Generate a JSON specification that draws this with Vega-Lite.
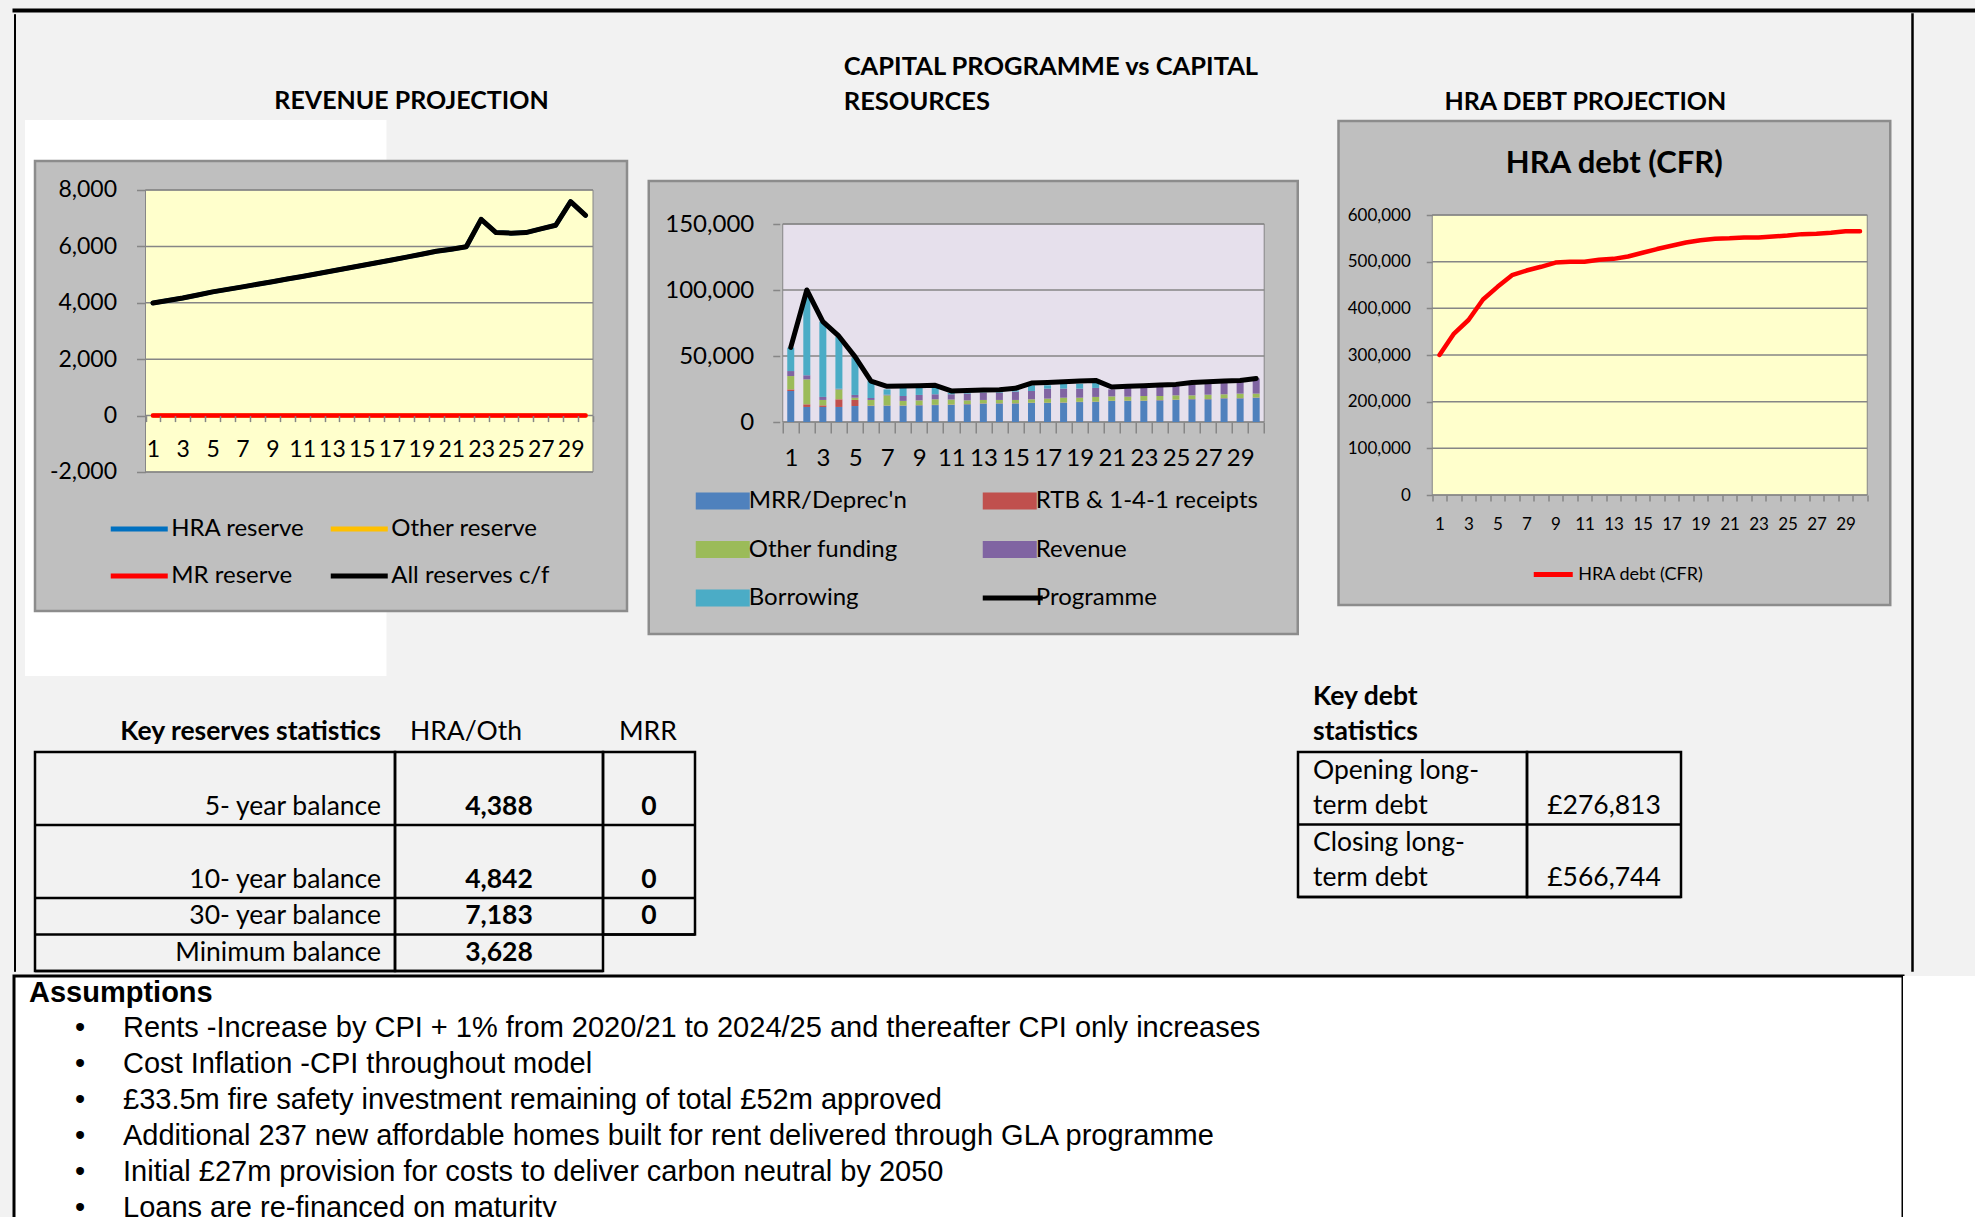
{
"$schema": "https://vega.github.io/schema/vega-lite/v6.json",
"background": "#F2F2F2",
"padding": {"left": 12, "top": 8, "right": 0, "bottom": 0},
"config": {
  "view": {"stroke": null},
  "font": "Lato",
  "axis": {"labelFont": "Lato", "labelColor": "#000000", "tickColor": "#868686", "tickWidth": 1.5, "domain": false, "grid": false},
  "legend": {"labelFont": "Lato", "labelColor": "#000000", "padding": 0, "labelLimit": 500},
  "title": {"font": "Lato", "color": "#000000", "frame": "group"},
  "text": {"font": "Lato", "color": "#000000"}
},
"datasets": {
  "revenue": [
    {"year":1,"hra":3990,"other":0,"mr":0,"all":3990},{"year":2,"hra":4080,"other":0,"mr":0,"all":4080},{"year":3,"hra":4170,"other":0,"mr":0,"all":4170},{"year":4,"hra":4275,"other":0,"mr":0,"all":4275},{"year":5,"hra":4388,"other":0,"mr":0,"all":4388},{"year":6,"hra":4475,"other":0,"mr":0,"all":4475},{"year":7,"hra":4565,"other":0,"mr":0,"all":4565},{"year":8,"hra":4655,"other":0,"mr":0,"all":4655},{"year":9,"hra":4748,"other":0,"mr":0,"all":4748},{"year":10,"hra":4842,"other":0,"mr":0,"all":4842},
    {"year":11,"hra":4935,"other":0,"mr":0,"all":4935},{"year":12,"hra":5030,"other":0,"mr":0,"all":5030},{"year":13,"hra":5125,"other":0,"mr":0,"all":5125},{"year":14,"hra":5222,"other":0,"mr":0,"all":5222},{"year":15,"hra":5320,"other":0,"mr":0,"all":5320},{"year":16,"hra":5420,"other":0,"mr":0,"all":5420},{"year":17,"hra":5520,"other":0,"mr":0,"all":5520},{"year":18,"hra":5620,"other":0,"mr":0,"all":5620},{"year":19,"hra":5722,"other":0,"mr":0,"all":5722},{"year":20,"hra":5825,"other":0,"mr":0,"all":5825},
    {"year":21,"hra":5900,"other":0,"mr":0,"all":5900},{"year":22,"hra":5985,"other":0,"mr":0,"all":5985},{"year":23,"hra":6960,"other":0,"mr":0,"all":6960},{"year":24,"hra":6490,"other":0,"mr":0,"all":6490},{"year":25,"hra":6470,"other":0,"mr":0,"all":6470},{"year":26,"hra":6490,"other":0,"mr":0,"all":6490},{"year":27,"hra":6620,"other":0,"mr":0,"all":6620},{"year":28,"hra":6750,"other":0,"mr":0,"all":6750},{"year":29,"hra":7590,"other":0,"mr":0,"all":7590},{"year":30,"hra":7100,"other":0,"mr":0,"all":7100}
  ],
  "capital": [
    {"year":1,"mrr":23500,"rtb":1200,"other":10100,"revenue":3800,"borrowing":17700,"programme":56500},
    {"year":2,"mrr":11400,"rtb":2000,"other":18900,"revenue":3100,"borrowing":59600,"programme":100000},
    {"year":3,"mrr":11400,"rtb":1200,"other":4100,"revenue":2300,"borrowing":57000,"programme":76000},
    {"year":4,"mrr":11400,"rtb":5800,"other":7500,"revenue":500,"borrowing":39300,"programme":65000},
    {"year":5,"mrr":12100,"rtb":4600,"other":1700,"revenue":2100,"borrowing":28500,"programme":49500},
    {"year":6,"mrr":12100,"rtb":300,"other":4300,"revenue":1500,"borrowing":12800,"programme":31000},
    {"year":7,"mrr":12300,"rtb":200,"other":7700,"revenue":500,"borrowing":4000,"programme":27000},
    {"year":8,"mrr":12300,"rtb":200,"other":3500,"revenue":3700,"borrowing":6300,"programme":27200},
    {"year":9,"mrr":12600,"rtb":200,"other":3600,"revenue":4100,"borrowing":5500,"programme":27500},
    {"year":10,"mrr":12800,"rtb":200,"other":4200,"revenue":3800,"borrowing":5400,"programme":27800},
    {"year":11,"mrr":13000,"rtb":200,"other":3800,"revenue":4000,"borrowing":1000,"programme":23500},
    {"year":12,"mrr":13400,"rtb":200,"other":2800,"revenue":5100,"borrowing":600,"programme":23800},
    {"year":13,"mrr":13900,"rtb":200,"other":2600,"revenue":5500,"borrowing":300,"programme":24200},
    {"year":14,"mrr":14000,"rtb":200,"other":2500,"revenue":5500,"borrowing":500,"programme":24500},
    {"year":15,"mrr":14000,"rtb":200,"other":2500,"revenue":6300,"borrowing":1000,"programme":25500},
    {"year":16,"mrr":14400,"rtb":200,"other":2600,"revenue":6300,"borrowing":4300,"programme":29500},
    {"year":17,"mrr":14400,"rtb":200,"other":3100,"revenue":7600,"borrowing":2500,"programme":30000},
    {"year":18,"mrr":14600,"rtb":200,"other":3600,"revenue":6900,"borrowing":3700,"programme":30500},
    {"year":19,"mrr":15100,"rtb":200,"other":3100,"revenue":6900,"borrowing":3700,"programme":31000},
    {"year":20,"mrr":15200,"rtb":200,"other":3600,"revenue":6800,"borrowing":4500,"programme":31500},
    {"year":21,"mrr":15900,"rtb":200,"other":3300,"revenue":5300,"borrowing":0,"programme":26500},
    {"year":22,"mrr":16000,"rtb":200,"other":3000,"revenue":6800,"borrowing":0,"programme":27000},
    {"year":23,"mrr":16000,"rtb":200,"other":3500,"revenue":6300,"borrowing":0,"programme":27500},
    {"year":24,"mrr":16400,"rtb":200,"other":3100,"revenue":6800,"borrowing":0,"programme":28000},
    {"year":25,"mrr":16700,"rtb":200,"other":3300,"revenue":7100,"borrowing":0,"programme":28500},
    {"year":26,"mrr":17200,"rtb":200,"other":2800,"revenue":8300,"borrowing":0,"programme":30000},
    {"year":27,"mrr":17200,"rtb":200,"other":3300,"revenue":8300,"borrowing":0,"programme":30500},
    {"year":28,"mrr":17900,"rtb":200,"other":2900,"revenue":8800,"borrowing":0,"programme":31000},
    {"year":29,"mrr":17900,"rtb":200,"other":3400,"revenue":9000,"borrowing":0,"programme":31500},
    {"year":30,"mrr":18400,"rtb":200,"other":2900,"revenue":11500,"borrowing":0,"programme":33000}
  ],
  "funding": [
    {"key":"mrr","source":"MRR/Deprec'n","rank":1},
    {"key":"rtb","source":"RTB & 1-4-1 receipts","rank":2},
    {"key":"other","source":"Other funding","rank":3},
    {"key":"revenue","source":"Revenue","rank":4},
    {"key":"borrowing","source":"Borrowing","rank":5}
  ],
  "debt": [
    {"year":1,"cfr":300000},{"year":2,"cfr":346000},{"year":3,"cfr":375000},{"year":4,"cfr":419000},{"year":5,"cfr":446000},{"year":6,"cfr":471000},{"year":7,"cfr":481000},{"year":8,"cfr":489000},{"year":9,"cfr":498000},{"year":10,"cfr":500000},
    {"year":11,"cfr":500000},{"year":12,"cfr":504000},{"year":13,"cfr":506000},{"year":14,"cfr":511000},{"year":15,"cfr":519000},{"year":16,"cfr":527000},{"year":17,"cfr":534000},{"year":18,"cfr":541000},{"year":19,"cfr":546000},{"year":20,"cfr":549000},
    {"year":21,"cfr":550000},{"year":22,"cfr":552000},{"year":23,"cfr":552000},{"year":24,"cfr":554000},{"year":25,"cfr":556000},{"year":26,"cfr":559000},{"year":27,"cfr":560000},{"year":28,"cfr":562000},{"year":29,"cfr":565000},{"year":30,"cfr":565000}
  ],
  "reserves": [
    {"row":"5","label":"5- year balance","hra":4388,"mrr":0},
    {"row":"10","label":"10- year balance","hra":4842,"mrr":0},
    {"row":"30","label":"30- year balance","hra":7183,"mrr":0},
    {"row":"min","label":"Minimum balance","hra":3628,"mrr":null}
  ],
  "debtStats": [
    {"key":"opening","item":" Opening long-\nterm debt","value":"£276,813"},
    {"key":"closing","item":"Closing long-\nterm debt","value":"£566,744"}
  ],
  "assumptions": [
    {"text":"Rents -Increase by CPI + 1% from 2020/21 to 2024/25 and thereafter CPI only increases"},
    {"text":"Cost Inflation -CPI throughout model"},
    {"text":"£33.5m fire safety investment remaining of total £52m approved"},
    {"text":"Additional 237 new affordable homes built for rent delivered through GLA programme"},
    {"text":"Initial £27m provision for costs to deliver carbon neutral by 2050"},
    {"text":"Loans are re-financed on maturity"}
  ]
},
"spacing": 0,
"vconcat": [
  {"width": 1962, "height": 1, "data": {"values": []}, "mark": "text", "encoding": {}, "view": {"fill": "#000000", "stroke": "#000000", "strokeWidth": 3}},
  {"spacing": 9, "hconcat": [
    {"width": 1, "height": 957, "data": {"values": []}, "mark": "text", "encoding": {}, "view": {"fill": "#000000", "stroke": "#000000", "strokeWidth": 1}},
    {"spacing": 5, "vconcat": [
      {"spacing": 17.75, "resolve": {"scale": {"color": "independent"}, "legend": {"color": "independent"}}, "hconcat": [
        {"spacing": 0, "resolve": {"scale": {"color": "independent"}, "legend": {"color": "independent"}}, "vconcat": [
          {"width": 592, "height": 74, "data": {"values": []}, "mark": "text", "encoding": {}},
          {
          "width": 592, "height": 450,
          "title": {"text": "REVENUE PROJECTION", "anchor": "middle", "dx": 80.5, "offset": 6, "fontSize": 25, "fontWeight": "bold"},
          "layer": [
            {"data": {"values": [{}]}, "mark": {"type": "rect", "fill": "#FFFFFF"},
             "encoding": {
               "x": {"datum": -7.578, "type": "quantitative", "scale": {"domain": [-6.908, 32.779], "nice": false, "zero": false},
                     "axis": {"orient": "bottom", "offset": -195.4, "values": [0.5,1.5,2.5,3.5,4.5,5.5,6.5,7.5,8.5,9.5,10.5,11.5,12.5,13.5,14.5,15.5,16.5,17.5,18.5,19.5,20.5,21.5,22.5,23.5,24.5,25.5,26.5,27.5,28.5,29.5,30.5], "labelExpr": "datum.value < 30 && (datum.value + 0.5) % 2 == 1 ? format(datum.value + 0.5, 'd') : ''", "labelOffset": 7.46, "tickSize": 6, "labelFontSize": 23, "labelPadding": 17, "labelFlush": false, "labelOverlap": false, "labelBound": false, "title": null, "zindex": 1}},
               "x2": {"datum": 16.656},
               "y": {"datum": -9234, "type": "quantitative", "scale": {"domain": [-6929, 9028], "nice": false, "zero": false},
                     "axis": {"orient": "left", "offset": -110.5, "values": [-2000, 0, 2000, 4000, 6000, 8000], "labelExpr": "replace(format(datum.value, ','), '−', '-')", "tickSize": 9, "labelFontSize": 23, "labelPadding": 20, "title": null, "zindex": 1}},
               "y2": {"datum": 10482}}},
            {"data": {"values": [{}]}, "mark": {"type": "rect", "fill": "#BFBFBF", "stroke": "#8C8C8C", "strokeWidth": 2.5},
             "encoding": {
               "x": {"datum": -6.908, "type": "quantitative", "scale": {"domain": [-6.908, 32.779], "nice": false, "zero": false},
                     "axis": {"orient": "bottom", "offset": -195.4, "values": [0.5,1.5,2.5,3.5,4.5,5.5,6.5,7.5,8.5,9.5,10.5,11.5,12.5,13.5,14.5,15.5,16.5,17.5,18.5,19.5,20.5,21.5,22.5,23.5,24.5,25.5,26.5,27.5,28.5,29.5,30.5], "labelExpr": "datum.value < 30 && (datum.value + 0.5) % 2 == 1 ? format(datum.value + 0.5, 'd') : ''", "labelOffset": 7.46, "tickSize": 6, "labelFontSize": 23, "labelPadding": 17, "labelFlush": false, "labelOverlap": false, "labelBound": false, "title": null, "zindex": 1}},
               "x2": {"datum": 32.779},
               "y": {"datum": -6929, "type": "quantitative", "scale": {"domain": [-6929, 9028], "nice": false, "zero": false},
                     "axis": {"orient": "left", "offset": -110.5, "values": [-2000, 0, 2000, 4000, 6000, 8000], "labelExpr": "replace(format(datum.value, ','), '−', '-')", "tickSize": 9, "labelFontSize": 23, "labelPadding": 20, "title": null, "zindex": 1}},
               "y2": {"datum": 9028}}},
            {"data": {"values": [{}]}, "mark": {"type": "rect", "fill": "#FFFFCC", "stroke": "#868686", "strokeWidth": 1},
             "encoding": {
               "x": {"datum": 0.5, "type": "quantitative", "scale": {"domain": [-6.908, 32.779], "nice": false, "zero": false},
                     "axis": {"orient": "bottom", "offset": -195.4, "values": [0.5,1.5,2.5,3.5,4.5,5.5,6.5,7.5,8.5,9.5,10.5,11.5,12.5,13.5,14.5,15.5,16.5,17.5,18.5,19.5,20.5,21.5,22.5,23.5,24.5,25.5,26.5,27.5,28.5,29.5,30.5], "labelExpr": "datum.value < 30 && (datum.value + 0.5) % 2 == 1 ? format(datum.value + 0.5, 'd') : ''", "labelOffset": 7.46, "tickSize": 6, "labelFontSize": 23, "labelPadding": 17, "labelFlush": false, "labelOverlap": false, "labelBound": false, "title": null, "zindex": 1}},
               "x2": {"datum": 30.5},
               "y": {"datum": -2000, "type": "quantitative", "scale": {"domain": [-6929, 9028], "nice": false, "zero": false},
                     "axis": {"orient": "left", "offset": -110.5, "values": [-2000, 0, 2000, 4000, 6000, 8000], "labelExpr": "replace(format(datum.value, ','), '−', '-')", "tickSize": 9, "labelFontSize": 23, "labelPadding": 20, "title": null, "zindex": 1}},
               "y2": {"datum": 8000}}},
            {"data": {"values": [{"grid": -2000}, {"grid": 0}, {"grid": 2000}, {"grid": 4000}, {"grid": 6000}, {"grid": 8000}]},
             "mark": {"type": "rule", "color": "#868686", "strokeWidth": 1.5},
             "encoding": {
               "y": {"field": "grid", "type": "quantitative", "scale": {"domain": [-6929, 9028], "nice": false, "zero": false},
                     "axis": {"orient": "left", "offset": -110.5, "values": [-2000, 0, 2000, 4000, 6000, 8000], "labelExpr": "replace(format(datum.value, ','), '−', '-')", "tickSize": 9, "labelFontSize": 23, "labelPadding": 20, "title": null, "zindex": 1}},
               "x": {"datum": 0.5, "type": "quantitative", "scale": {"domain": [-6.908, 32.779], "nice": false, "zero": false},
                     "axis": {"orient": "bottom", "offset": -195.4, "values": [0.5,1.5,2.5,3.5,4.5,5.5,6.5,7.5,8.5,9.5,10.5,11.5,12.5,13.5,14.5,15.5,16.5,17.5,18.5,19.5,20.5,21.5,22.5,23.5,24.5,25.5,26.5,27.5,28.5,29.5,30.5], "labelExpr": "datum.value < 30 && (datum.value + 0.5) % 2 == 1 ? format(datum.value + 0.5, 'd') : ''", "labelOffset": 7.46, "tickSize": 6, "labelFontSize": 23, "labelPadding": 17, "labelFlush": false, "labelOverlap": false, "labelBound": false, "title": null, "zindex": 1}},
               "x2": {"datum": 30.5}}},
            {"data": {"name": "revenue"}, "mark": {"type": "line", "strokeWidth": 4.5, "strokeCap": "round", "strokeJoin": "round"},
             "encoding": {
               "x": {"field": "year", "type": "quantitative", "scale": {"domain": [-6.908, 32.779], "nice": false, "zero": false},
                     "axis": {"orient": "bottom", "offset": -195.4, "values": [0.5,1.5,2.5,3.5,4.5,5.5,6.5,7.5,8.5,9.5,10.5,11.5,12.5,13.5,14.5,15.5,16.5,17.5,18.5,19.5,20.5,21.5,22.5,23.5,24.5,25.5,26.5,27.5,28.5,29.5,30.5], "labelExpr": "datum.value < 30 && (datum.value + 0.5) % 2 == 1 ? format(datum.value + 0.5, 'd') : ''", "labelOffset": 7.46, "tickSize": 6, "labelFontSize": 23, "labelPadding": 17, "labelFlush": false, "labelOverlap": false, "labelBound": false, "title": null, "zindex": 1}},
               "y": {"field": "hra", "type": "quantitative", "scale": {"domain": [-6929, 9028], "nice": false, "zero": false},
                     "axis": {"orient": "left", "offset": -110.5, "values": [-2000, 0, 2000, 4000, 6000, 8000], "labelExpr": "replace(format(datum.value, ','), '−', '-')", "tickSize": 9, "labelFontSize": 23, "labelPadding": 20, "title": null, "zindex": 1}},
               "color": {"datum": "HRA reserve", "scale": {"domain": ["HRA reserve", "Other reserve", "MR reserve", "All reserves c/f"], "range": ["#0070C0", "#FFC000", "#FF0000", "#000000"]},
                         "legend": {"orient": "none", "direction": "horizontal", "legendX": 73.25, "legendY": 337, "columns": 2, "title": null, "symbolType": "stroke", "symbolSize": 3249, "symbolStrokeWidth": 5, "labelFontSize": 24, "labelOffset": 1, "columnPadding": 15, "rowPadding": 4, "padding": 0}}}},
            {"data": {"name": "revenue"}, "mark": {"type": "line", "strokeWidth": 4.5, "strokeCap": "round", "strokeJoin": "round"},
             "encoding": {
               "x": {"field": "year", "type": "quantitative", "scale": {"domain": [-6.908, 32.779], "nice": false, "zero": false},
                     "axis": {"orient": "bottom", "offset": -195.4, "values": [0.5,1.5,2.5,3.5,4.5,5.5,6.5,7.5,8.5,9.5,10.5,11.5,12.5,13.5,14.5,15.5,16.5,17.5,18.5,19.5,20.5,21.5,22.5,23.5,24.5,25.5,26.5,27.5,28.5,29.5,30.5], "labelExpr": "datum.value < 30 && (datum.value + 0.5) % 2 == 1 ? format(datum.value + 0.5, 'd') : ''", "labelOffset": 7.46, "tickSize": 6, "labelFontSize": 23, "labelPadding": 17, "labelFlush": false, "labelOverlap": false, "labelBound": false, "title": null, "zindex": 1}},
               "y": {"field": "other", "type": "quantitative", "scale": {"domain": [-6929, 9028], "nice": false, "zero": false},
                     "axis": {"orient": "left", "offset": -110.5, "values": [-2000, 0, 2000, 4000, 6000, 8000], "labelExpr": "replace(format(datum.value, ','), '−', '-')", "tickSize": 9, "labelFontSize": 23, "labelPadding": 20, "title": null, "zindex": 1}},
               "color": {"datum": "Other reserve"}}},
            {"data": {"name": "revenue"}, "mark": {"type": "line", "strokeWidth": 4.5, "strokeCap": "round", "strokeJoin": "round"},
             "encoding": {
               "x": {"field": "year", "type": "quantitative", "scale": {"domain": [-6.908, 32.779], "nice": false, "zero": false},
                     "axis": {"orient": "bottom", "offset": -195.4, "values": [0.5,1.5,2.5,3.5,4.5,5.5,6.5,7.5,8.5,9.5,10.5,11.5,12.5,13.5,14.5,15.5,16.5,17.5,18.5,19.5,20.5,21.5,22.5,23.5,24.5,25.5,26.5,27.5,28.5,29.5,30.5], "labelExpr": "datum.value < 30 && (datum.value + 0.5) % 2 == 1 ? format(datum.value + 0.5, 'd') : ''", "labelOffset": 7.46, "tickSize": 6, "labelFontSize": 23, "labelPadding": 17, "labelFlush": false, "labelOverlap": false, "labelBound": false, "title": null, "zindex": 1}},
               "y": {"field": "mr", "type": "quantitative", "scale": {"domain": [-6929, 9028], "nice": false, "zero": false},
                     "axis": {"orient": "left", "offset": -110.5, "values": [-2000, 0, 2000, 4000, 6000, 8000], "labelExpr": "replace(format(datum.value, ','), '−', '-')", "tickSize": 9, "labelFontSize": 23, "labelPadding": 20, "title": null, "zindex": 1}},
               "color": {"datum": "MR reserve"}}},
            {"data": {"name": "revenue"}, "mark": {"type": "line", "strokeWidth": 5, "strokeCap": "round", "strokeJoin": "round"},
             "encoding": {
               "x": {"field": "year", "type": "quantitative", "scale": {"domain": [-6.908, 32.779], "nice": false, "zero": false},
                     "axis": {"orient": "bottom", "offset": -195.4, "values": [0.5,1.5,2.5,3.5,4.5,5.5,6.5,7.5,8.5,9.5,10.5,11.5,12.5,13.5,14.5,15.5,16.5,17.5,18.5,19.5,20.5,21.5,22.5,23.5,24.5,25.5,26.5,27.5,28.5,29.5,30.5], "labelExpr": "datum.value < 30 && (datum.value + 0.5) % 2 == 1 ? format(datum.value + 0.5, 'd') : ''", "labelOffset": 7.46, "tickSize": 6, "labelFontSize": 23, "labelPadding": 17, "labelFlush": false, "labelOverlap": false, "labelBound": false, "title": null, "zindex": 1}},
               "y": {"field": "all", "type": "quantitative", "scale": {"domain": [-6929, 9028], "nice": false, "zero": false},
                     "axis": {"orient": "left", "offset": -110.5, "values": [-2000, 0, 2000, 4000, 6000, 8000], "labelExpr": "replace(format(datum.value, ','), '−', '-')", "tickSize": 9, "labelFontSize": 23, "labelPadding": 20, "title": null, "zindex": 1}},
               "color": {"datum": "All reserves c/f"}}}
          ]
          }
        ]},
        {"spacing": 0, "resolve": {"scale": {"color": "independent"}, "legend": {"color": "independent"}}, "vconcat": [
          {"width": 649, "height": 39, "data": {"values": []}, "mark": "text", "encoding": {}},
          {
          "width": 649, "height": 453,
          "view": {"fill": "#BFBFBF", "stroke": "#8C8C8C", "strokeWidth": 2.5},
          "title": {"text": ["CAPITAL PROGRAMME vs CAPITAL", "RESOURCES"], "anchor": "start", "dx": 195, "offset": 66, "fontSize": 25.5, "fontWeight": "bold", "lineHeight": 35},
          "layer": [
            {"data": {"values": [{}]}, "mark": {"type": "rect", "opacity": 0},
             "encoding": {
               "x": {"datum": 32.279, "type": "quantitative", "scale": {"domain": [-7.537, 32.279], "nice": false, "zero": false},
                     "axis": {"orient": "bottom", "offset": -212, "values": [0.5,1.5,2.5,3.5,4.5,5.5,6.5,7.5,8.5,9.5,10.5,11.5,12.5,13.5,14.5,15.5,16.5,17.5,18.5,19.5,20.5,21.5,22.5,23.5,24.5,25.5,26.5,27.5,28.5,29.5,30.5], "labelExpr": "datum.value < 30 && (datum.value + 0.5) % 2 == 1 ? format(datum.value + 0.5, 'd') : ''", "labelOffset": 8.15, "tickSize": 11, "labelFontSize": 24, "labelPadding": 13, "labelFlush": false, "labelOverlap": false, "labelBound": false, "title": null, "zindex": 1}},
               "x2": {"datum": 33.813},
               "y": {"datum": 0, "type": "quantitative", "scale": {"domain": [-160606, 182576], "nice": false, "zero": false},
                     "axis": {"orient": "left", "offset": -131, "values": [0, 50000, 100000, 150000], "labelExpr": "format(datum.value, ',')", "tickSize": 7, "labelFontSize": 24, "labelPadding": 19, "title": null, "zindex": 1}},
               "y2": {"datum": 150000}}},
            {"data": {"values": [{}]}, "mark": {"type": "rect", "fill": "#E6E0EC", "stroke": "#868686", "strokeWidth": 1},
             "encoding": {
               "x": {"datum": 0.5, "type": "quantitative", "scale": {"domain": [-7.537, 32.279], "nice": false, "zero": false},
                     "axis": {"orient": "bottom", "offset": -212, "values": [0.5,1.5,2.5,3.5,4.5,5.5,6.5,7.5,8.5,9.5,10.5,11.5,12.5,13.5,14.5,15.5,16.5,17.5,18.5,19.5,20.5,21.5,22.5,23.5,24.5,25.5,26.5,27.5,28.5,29.5,30.5], "labelExpr": "datum.value < 30 && (datum.value + 0.5) % 2 == 1 ? format(datum.value + 0.5, 'd') : ''", "labelOffset": 8.15, "tickSize": 11, "labelFontSize": 24, "labelPadding": 13, "labelFlush": false, "labelOverlap": false, "labelBound": false, "title": null, "zindex": 1}},
               "x2": {"datum": 30.5},
               "y": {"datum": 0, "type": "quantitative", "scale": {"domain": [-160606, 182576], "nice": false, "zero": false},
                     "axis": {"orient": "left", "offset": -131, "values": [0, 50000, 100000, 150000], "labelExpr": "format(datum.value, ',')", "tickSize": 7, "labelFontSize": 24, "labelPadding": 19, "title": null, "zindex": 1}},
               "y2": {"datum": 150000}}},
            {"data": {"values": [{"grid": 0}, {"grid": 50000}, {"grid": 100000}, {"grid": 150000}]},
             "mark": {"type": "rule", "color": "#868686", "strokeWidth": 1.5},
             "encoding": {
               "y": {"field": "grid", "type": "quantitative", "scale": {"domain": [-160606, 182576], "nice": false, "zero": false},
                     "axis": {"orient": "left", "offset": -131, "values": [0, 50000, 100000, 150000], "labelExpr": "format(datum.value, ',')", "tickSize": 7, "labelFontSize": 24, "labelPadding": 19, "title": null, "zindex": 1}},
               "x": {"datum": 0.5, "type": "quantitative", "scale": {"domain": [-7.537, 32.279], "nice": false, "zero": false},
                     "axis": {"orient": "bottom", "offset": -212, "values": [0.5,1.5,2.5,3.5,4.5,5.5,6.5,7.5,8.5,9.5,10.5,11.5,12.5,13.5,14.5,15.5,16.5,17.5,18.5,19.5,20.5,21.5,22.5,23.5,24.5,25.5,26.5,27.5,28.5,29.5,30.5], "labelExpr": "datum.value < 30 && (datum.value + 0.5) % 2 == 1 ? format(datum.value + 0.5, 'd') : ''", "labelOffset": 8.15, "tickSize": 11, "labelFontSize": 24, "labelPadding": 13, "labelFlush": false, "labelOverlap": false, "labelBound": false, "title": null, "zindex": 1}},
               "x2": {"datum": 30.5}}},
            {"data": {"name": "capital"},
             "transform": [
               {"fold": ["mrr", "rtb", "other", "revenue", "borrowing"], "as": ["key", "value"]},
               {"lookup": "key", "from": {"data": {"name": "funding"}, "key": "key", "fields": ["source", "rank"]}}
             ],
             "mark": {"type": "bar", "size": 7},
             "encoding": {
               "x": {"field": "year", "type": "quantitative", "scale": {"domain": [-7.537, 32.279], "nice": false, "zero": false},
                     "axis": {"orient": "bottom", "offset": -212, "values": [0.5,1.5,2.5,3.5,4.5,5.5,6.5,7.5,8.5,9.5,10.5,11.5,12.5,13.5,14.5,15.5,16.5,17.5,18.5,19.5,20.5,21.5,22.5,23.5,24.5,25.5,26.5,27.5,28.5,29.5,30.5], "labelExpr": "datum.value < 30 && (datum.value + 0.5) % 2 == 1 ? format(datum.value + 0.5, 'd') : ''", "labelOffset": 8.15, "tickSize": 11, "labelFontSize": 24, "labelPadding": 13, "labelFlush": false, "labelOverlap": false, "labelBound": false, "title": null, "zindex": 1}},
               "y": {"field": "value", "type": "quantitative", "stack": "zero", "scale": {"domain": [-160606, 182576], "nice": false, "zero": false},
                     "axis": {"orient": "left", "offset": -131, "values": [0, 50000, 100000, 150000], "labelExpr": "format(datum.value, ',')", "tickSize": 7, "labelFontSize": 24, "labelPadding": 19, "title": null, "zindex": 1}},
               "color": {"field": "source", "type": "nominal",
                         "scale": {"domain": ["MRR/Deprec'n", "RTB & 1-4-1 receipts", "Other funding", "Revenue", "Borrowing", "Programme"], "range": ["#4F81BD", "#C0504D", "#9BBB59", "#8064A2", "#4BACC6", "#000000"]},
                         "legend": {"orient": "none", "direction": "horizontal", "legendX": 65, "legendY": 308, "columns": 2, "title": null, "symbolType": "square", "symbolSize": 3600, "labelFontSize": 24, "labelOffset": 11, "columnPadding": 65, "rowPadding": 24.5, "padding": 0,
                                    "encode": {"symbols": {"update": {
                                      "shape": {"signal": "datum.value === 'Programme' ? 'stroke' : 'M-1,-0.28H0.8V0.28H-1Z'"},
                                      "stroke": {"signal": "datum.value === 'Programme' ? '#000000' : 'transparent'"},
                                      "strokeWidth": {"signal": "datum.value === 'Programme' ? 5 : 0"}}}}}},
               "order": {"field": "rank", "type": "quantitative"}}},
            {"data": {"name": "capital"}, "mark": {"type": "line", "strokeWidth": 5, "strokeCap": "round", "strokeJoin": "round"},
             "encoding": {
               "x": {"field": "year", "type": "quantitative", "scale": {"domain": [-7.537, 32.279], "nice": false, "zero": false},
                     "axis": {"orient": "bottom", "offset": -212, "values": [0.5,1.5,2.5,3.5,4.5,5.5,6.5,7.5,8.5,9.5,10.5,11.5,12.5,13.5,14.5,15.5,16.5,17.5,18.5,19.5,20.5,21.5,22.5,23.5,24.5,25.5,26.5,27.5,28.5,29.5,30.5], "labelExpr": "datum.value < 30 && (datum.value + 0.5) % 2 == 1 ? format(datum.value + 0.5, 'd') : ''", "labelOffset": 8.15, "tickSize": 11, "labelFontSize": 24, "labelPadding": 13, "labelFlush": false, "labelOverlap": false, "labelBound": false, "title": null, "zindex": 1}},
               "y": {"field": "programme", "type": "quantitative", "scale": {"domain": [-160606, 182576], "nice": false, "zero": false},
                     "axis": {"orient": "left", "offset": -131, "values": [0, 50000, 100000, 150000], "labelExpr": "format(datum.value, ',')", "tickSize": 7, "labelFontSize": 24, "labelPadding": 19, "title": null, "zindex": 1}},
               "color": {"datum": "Programme"}}}
          ]
          }
        ]},
        {"spacing": 0, "resolve": {"scale": {"color": "independent"}, "legend": {"color": "independent"}}, "vconcat": [
          {"width": 551.75, "height": 74, "data": {"values": []}, "mark": "text", "encoding": {}},
          {
          "width": 551.75, "height": 484,
          "view": {"fill": "#BFBFBF", "stroke": "#8C8C8C", "strokeWidth": 2.5},
          "title": {"text": "HRA DEBT PROJECTION", "anchor": "middle", "dx": -29, "offset": 6, "fontSize": 25, "fontWeight": "bold"},
          "layer": [
            {"data": {"values": [{}]}, "mark": {"type": "rect", "fill": "#FFFFCC", "stroke": "#868686", "strokeWidth": 1},
             "encoding": {
               "x": {"datum": 0.5, "type": "quantitative", "scale": {"domain": [-5.966, 32.086], "nice": false, "zero": false},
                     "axis": {"orient": "bottom", "offset": -110, "values": [0.5,1.5,2.5,3.5,4.5,5.5,6.5,7.5,8.5,9.5,10.5,11.5,12.5,13.5,14.5,15.5,16.5,17.5,18.5,19.5,20.5,21.5,22.5,23.5,24.5,25.5,26.5,27.5,28.5,29.5,30.5], "labelExpr": "datum.value < 30 && (datum.value + 0.5) % 2 == 1 ? format(datum.value + 0.5, 'd') : ''", "labelOffset": 7.25, "tickSize": 6, "labelFontSize": 17, "labelPadding": 15, "labelFlush": false, "labelOverlap": false, "labelBound": false, "title": null, "zindex": 1}},
               "x2": {"datum": 30.5},
               "y": {"datum": 0, "type": "quantitative", "scale": {"domain": [-235714, 801429], "nice": false, "zero": false},
                     "axis": {"orient": "left", "offset": -93.75, "values": [0, 100000, 200000, 300000, 400000, 500000, 600000], "labelExpr": "format(datum.value, ',')", "tickSize": 6, "labelFontSize": 17, "labelPadding": 16, "title": null, "zindex": 1}},
               "y2": {"datum": 600000}}},
            {"data": {"values": [{"grid": 0}, {"grid": 100000}, {"grid": 200000}, {"grid": 300000}, {"grid": 400000}, {"grid": 500000}, {"grid": 600000}]},
             "mark": {"type": "rule", "color": "#868686", "strokeWidth": 1.5},
             "encoding": {
               "y": {"field": "grid", "type": "quantitative", "scale": {"domain": [-235714, 801429], "nice": false, "zero": false},
                     "axis": {"orient": "left", "offset": -93.75, "values": [0, 100000, 200000, 300000, 400000, 500000, 600000], "labelExpr": "format(datum.value, ',')", "tickSize": 6, "labelFontSize": 17, "labelPadding": 16, "title": null, "zindex": 1}},
               "x": {"datum": 0.5, "type": "quantitative", "scale": {"domain": [-5.966, 32.086], "nice": false, "zero": false},
                     "axis": {"orient": "bottom", "offset": -110, "values": [0.5,1.5,2.5,3.5,4.5,5.5,6.5,7.5,8.5,9.5,10.5,11.5,12.5,13.5,14.5,15.5,16.5,17.5,18.5,19.5,20.5,21.5,22.5,23.5,24.5,25.5,26.5,27.5,28.5,29.5,30.5], "labelExpr": "datum.value < 30 && (datum.value + 0.5) % 2 == 1 ? format(datum.value + 0.5, 'd') : ''", "labelOffset": 7.25, "tickSize": 6, "labelFontSize": 17, "labelPadding": 15, "labelFlush": false, "labelOverlap": false, "labelBound": false, "title": null, "zindex": 1}},
               "x2": {"datum": 30.5}}},
            {"data": {"name": "debt"}, "mark": {"type": "line", "strokeWidth": 4.5, "strokeCap": "round", "strokeJoin": "round"},
             "encoding": {
               "x": {"field": "year", "type": "quantitative", "scale": {"domain": [-5.966, 32.086], "nice": false, "zero": false},
                     "axis": {"orient": "bottom", "offset": -110, "values": [0.5,1.5,2.5,3.5,4.5,5.5,6.5,7.5,8.5,9.5,10.5,11.5,12.5,13.5,14.5,15.5,16.5,17.5,18.5,19.5,20.5,21.5,22.5,23.5,24.5,25.5,26.5,27.5,28.5,29.5,30.5], "labelExpr": "datum.value < 30 && (datum.value + 0.5) % 2 == 1 ? format(datum.value + 0.5, 'd') : ''", "labelOffset": 7.25, "tickSize": 6, "labelFontSize": 17, "labelPadding": 15, "labelFlush": false, "labelOverlap": false, "labelBound": false, "title": null, "zindex": 1}},
               "y": {"field": "cfr", "type": "quantitative", "scale": {"domain": [-235714, 801429], "nice": false, "zero": false},
                     "axis": {"orient": "left", "offset": -93.75, "values": [0, 100000, 200000, 300000, 400000, 500000, 600000], "labelExpr": "format(datum.value, ',')", "tickSize": 6, "labelFontSize": 17, "labelPadding": 16, "title": null, "zindex": 1}},
               "color": {"datum": "HRA debt (CFR)", "scale": {"domain": ["HRA debt (CFR)"], "range": ["#FF0000"]},
                         "legend": {"orient": "none", "legendX": 192.75, "legendY": 431.5, "title": null, "symbolType": "stroke", "symbolSize": 1521, "symbolStrokeWidth": 5, "labelFontSize": 18, "labelOffset": 3, "padding": 0}}}},
            {"data": {"values": [{}]}, "mark": {"type": "text", "text": "HRA debt (CFR)", "fontSize": 31, "fontWeight": "bold", "align": "center", "baseline": "middle"},
             "encoding": {
               "x": {"datum": 13.05, "type": "quantitative", "scale": {"domain": [-5.966, 32.086], "nice": false, "zero": false},
                     "axis": {"orient": "bottom", "offset": -110, "values": [0.5,1.5,2.5,3.5,4.5,5.5,6.5,7.5,8.5,9.5,10.5,11.5,12.5,13.5,14.5,15.5,16.5,17.5,18.5,19.5,20.5,21.5,22.5,23.5,24.5,25.5,26.5,27.5,28.5,29.5,30.5], "labelExpr": "datum.value < 30 && (datum.value + 0.5) % 2 == 1 ? format(datum.value + 0.5, 'd') : ''", "labelOffset": 7.25, "tickSize": 6, "labelFontSize": 17, "labelPadding": 15, "labelFlush": false, "labelOverlap": false, "labelBound": false, "title": null, "zindex": 1}},
               "y": {"datum": 709286, "type": "quantitative", "scale": {"domain": [-235714, 801429], "nice": false, "zero": false},
                     "axis": {"orient": "left", "offset": -93.75, "values": [0, 100000, 200000, 300000, 400000, 500000, 600000], "labelExpr": "format(datum.value, ',')", "tickSize": 6, "labelFontSize": 17, "labelPadding": 16, "title": null, "zindex": 1}}}}
          ]
          }
        ]}
      ]},
      {"spacing": 0, "bounds": "flush", "hconcat": [
        {"width": 360, "height": 219, "view": {"stroke": "#000000", "strokeWidth": 2.5},
         "title": {"text": "Key reserves statistics", "anchor": "end", "dx": -14, "offset": 7, "fontSize": 26.5, "fontWeight": "bold"},
         "data": {"name": "reserves"},
         "layer": [
           {"mark": {"type": "text", "align": "right", "dx": 166, "fontSize": 26.5},
            "encoding": {"y": {"field": "row", "type": "nominal", "scale": {"domain": ["5t", "5", "10t", "10", "30", "min"], "paddingInner": 0, "paddingOuter": 0}, "axis": null},
                         "text": {"field": "label"}}},
           {"mark": {"type": "rule", "color": "#000000", "strokeWidth": 2.5},
            "encoding": {"y": {"field": "row", "type": "nominal", "bandPosition": 1, "scale": {"domain": ["5t", "5", "10t", "10", "30", "min"], "paddingInner": 0, "paddingOuter": 0}, "axis": null}}}
         ]},
        {"width": 208, "height": 219, "view": {"stroke": "#000000", "strokeWidth": 2.5},
         "title": {"text": "HRA/Oth", "anchor": "start", "dx": 15, "offset": 7, "fontSize": 26.5, "fontWeight": "normal"},
         "data": {"name": "reserves"},
         "layer": [
           {"mark": {"type": "text", "align": "center", "fontSize": 26.5, "fontWeight": "bold"},
            "encoding": {"y": {"field": "row", "type": "nominal", "scale": {"domain": ["5t", "5", "10t", "10", "30", "min"], "paddingInner": 0, "paddingOuter": 0}, "axis": null},
                         "text": {"field": "hra", "type": "quantitative", "format": ","}}},
           {"mark": {"type": "rule", "color": "#000000", "strokeWidth": 2.5},
            "encoding": {"y": {"field": "row", "type": "nominal", "bandPosition": 1, "scale": {"domain": ["5t", "5", "10t", "10", "30", "min"], "paddingInner": 0, "paddingOuter": 0}, "axis": null}}}
         ]},
        {"width": 92, "height": 182.5, "view": {"stroke": "#000000", "strokeWidth": 2.5},
         "title": {"text": "MRR", "anchor": "start", "dx": 16, "offset": 7, "fontSize": 26.5, "fontWeight": "normal"},
         "data": {"name": "reserves"},
         "transform": [{"filter": "isValid(datum.mrr)"}],
         "layer": [
           {"mark": {"type": "text", "align": "center", "fontSize": 26.5, "fontWeight": "bold"},
            "encoding": {"y": {"field": "row", "type": "nominal", "scale": {"domain": ["5t", "5", "10t", "10", "30"], "paddingInner": 0, "paddingOuter": 0}, "axis": null},
                         "text": {"field": "mrr", "type": "quantitative", "format": ","}}},
           {"mark": {"type": "rule", "color": "#000000", "strokeWidth": 2.5},
            "encoding": {"y": {"field": "row", "type": "nominal", "bandPosition": 1, "scale": {"domain": ["5t", "5", "10t", "10", "30"], "paddingInner": 0, "paddingOuter": 0}, "axis": null}}}
         ]},
        {"width": 603, "height": 10, "data": {"values": []}, "mark": "text", "encoding": {}},
        {"width": 229, "height": 145, "view": {"stroke": "#000000", "strokeWidth": 2.5},
         "title": {"text": [" Key debt", "statistics"], "anchor": "start", "dx": 15, "offset": 7, "fontSize": 26.5, "fontWeight": "bold", "lineHeight": 35},
         "data": {"name": "debtStats"},
         "layer": [
           {"mark": {"type": "text", "align": "left", "dx": -99.5, "dy": -17.5, "fontSize": 26.5, "lineBreak": "\n", "lineHeight": 35},
            "encoding": {"y": {"field": "key", "type": "nominal", "sort": null, "scale": {"domain": ["opening", "closing"], "paddingInner": 0, "paddingOuter": 0}, "axis": null},
                         "text": {"field": "item"}}},
           {"mark": {"type": "rule", "color": "#000000", "strokeWidth": 2.5},
            "encoding": {"y": {"field": "key", "type": "nominal", "sort": null, "bandPosition": 1, "scale": {"domain": ["opening", "closing"], "paddingInner": 0, "paddingOuter": 0}, "axis": null}}}
         ]},
        {"width": 154, "height": 145, "view": {"stroke": "#000000", "strokeWidth": 2.5},
         "data": {"name": "debtStats"},
         "layer": [
           {"mark": {"type": "text", "align": "center", "dy": 17.5, "fontSize": 26.5},
            "encoding": {"y": {"field": "key", "type": "nominal", "sort": null, "scale": {"domain": ["opening", "closing"], "paddingInner": 0, "paddingOuter": 0}, "axis": null},
                         "text": {"field": "value"}}},
           {"mark": {"type": "rule", "color": "#000000", "strokeWidth": 2.5},
            "encoding": {"y": {"field": "key", "type": "nominal", "sort": null, "bandPosition": 1, "scale": {"domain": ["opening", "closing"], "paddingInner": 0, "paddingOuter": 0}, "axis": null}}}
         ]},
        {"width": 220.5, "height": 10, "data": {"values": []}, "mark": "text", "encoding": {}}
      ]}
    ]},
    {"width": 1, "height": 957, "data": {"values": []}, "mark": "text", "encoding": {}, "view": {"fill": "#000000", "stroke": "#000000", "strokeWidth": 1.5}}
  ]},
  {"spacing": 0, "bounds": "flush", "hconcat": [
    {"width": 1889, "height": 252, "view": {"fill": "#FFFFFF", "stroke": "#000000", "strokeWidth": 3},
     "title": {"text": "Assumptions", "anchor": "start", "dx": 15, "offset": -32, "font": "Liberation Sans", "fontSize": 29, "fontWeight": "bold"},
     "data": {"name": "assumptions"},
     "encoding": {"y": {"field": "text", "type": "nominal", "sort": null, "scale": {"range": [34, 250], "paddingInner": 0, "paddingOuter": 0}, "axis": null}},
     "layer": [
       {"mark": {"type": "text", "text": "•", "font": "Liberation Sans", "fontSize": 29, "align": "center"},
        "encoding": {"x": {"datum": "bullet", "type": "nominal", "scale": {"type": "point", "domain": ["bullet", "text"], "range": [66, 109], "padding": 0}, "axis": null}}},
       {"mark": {"type": "text", "font": "Liberation Sans", "fontSize": 29, "align": "left"},
        "encoding": {"x": {"datum": "text", "type": "nominal", "scale": {"type": "point", "domain": ["bullet", "text"], "range": [66, 109], "padding": 0}, "axis": null},
                     "text": {"field": "text"}}}
     ]},
    {"width": 80, "height": 252, "data": {"values": []}, "mark": "text", "encoding": {}, "view": {"fill": "#FFFFFF"}}
  ]}
]
}
